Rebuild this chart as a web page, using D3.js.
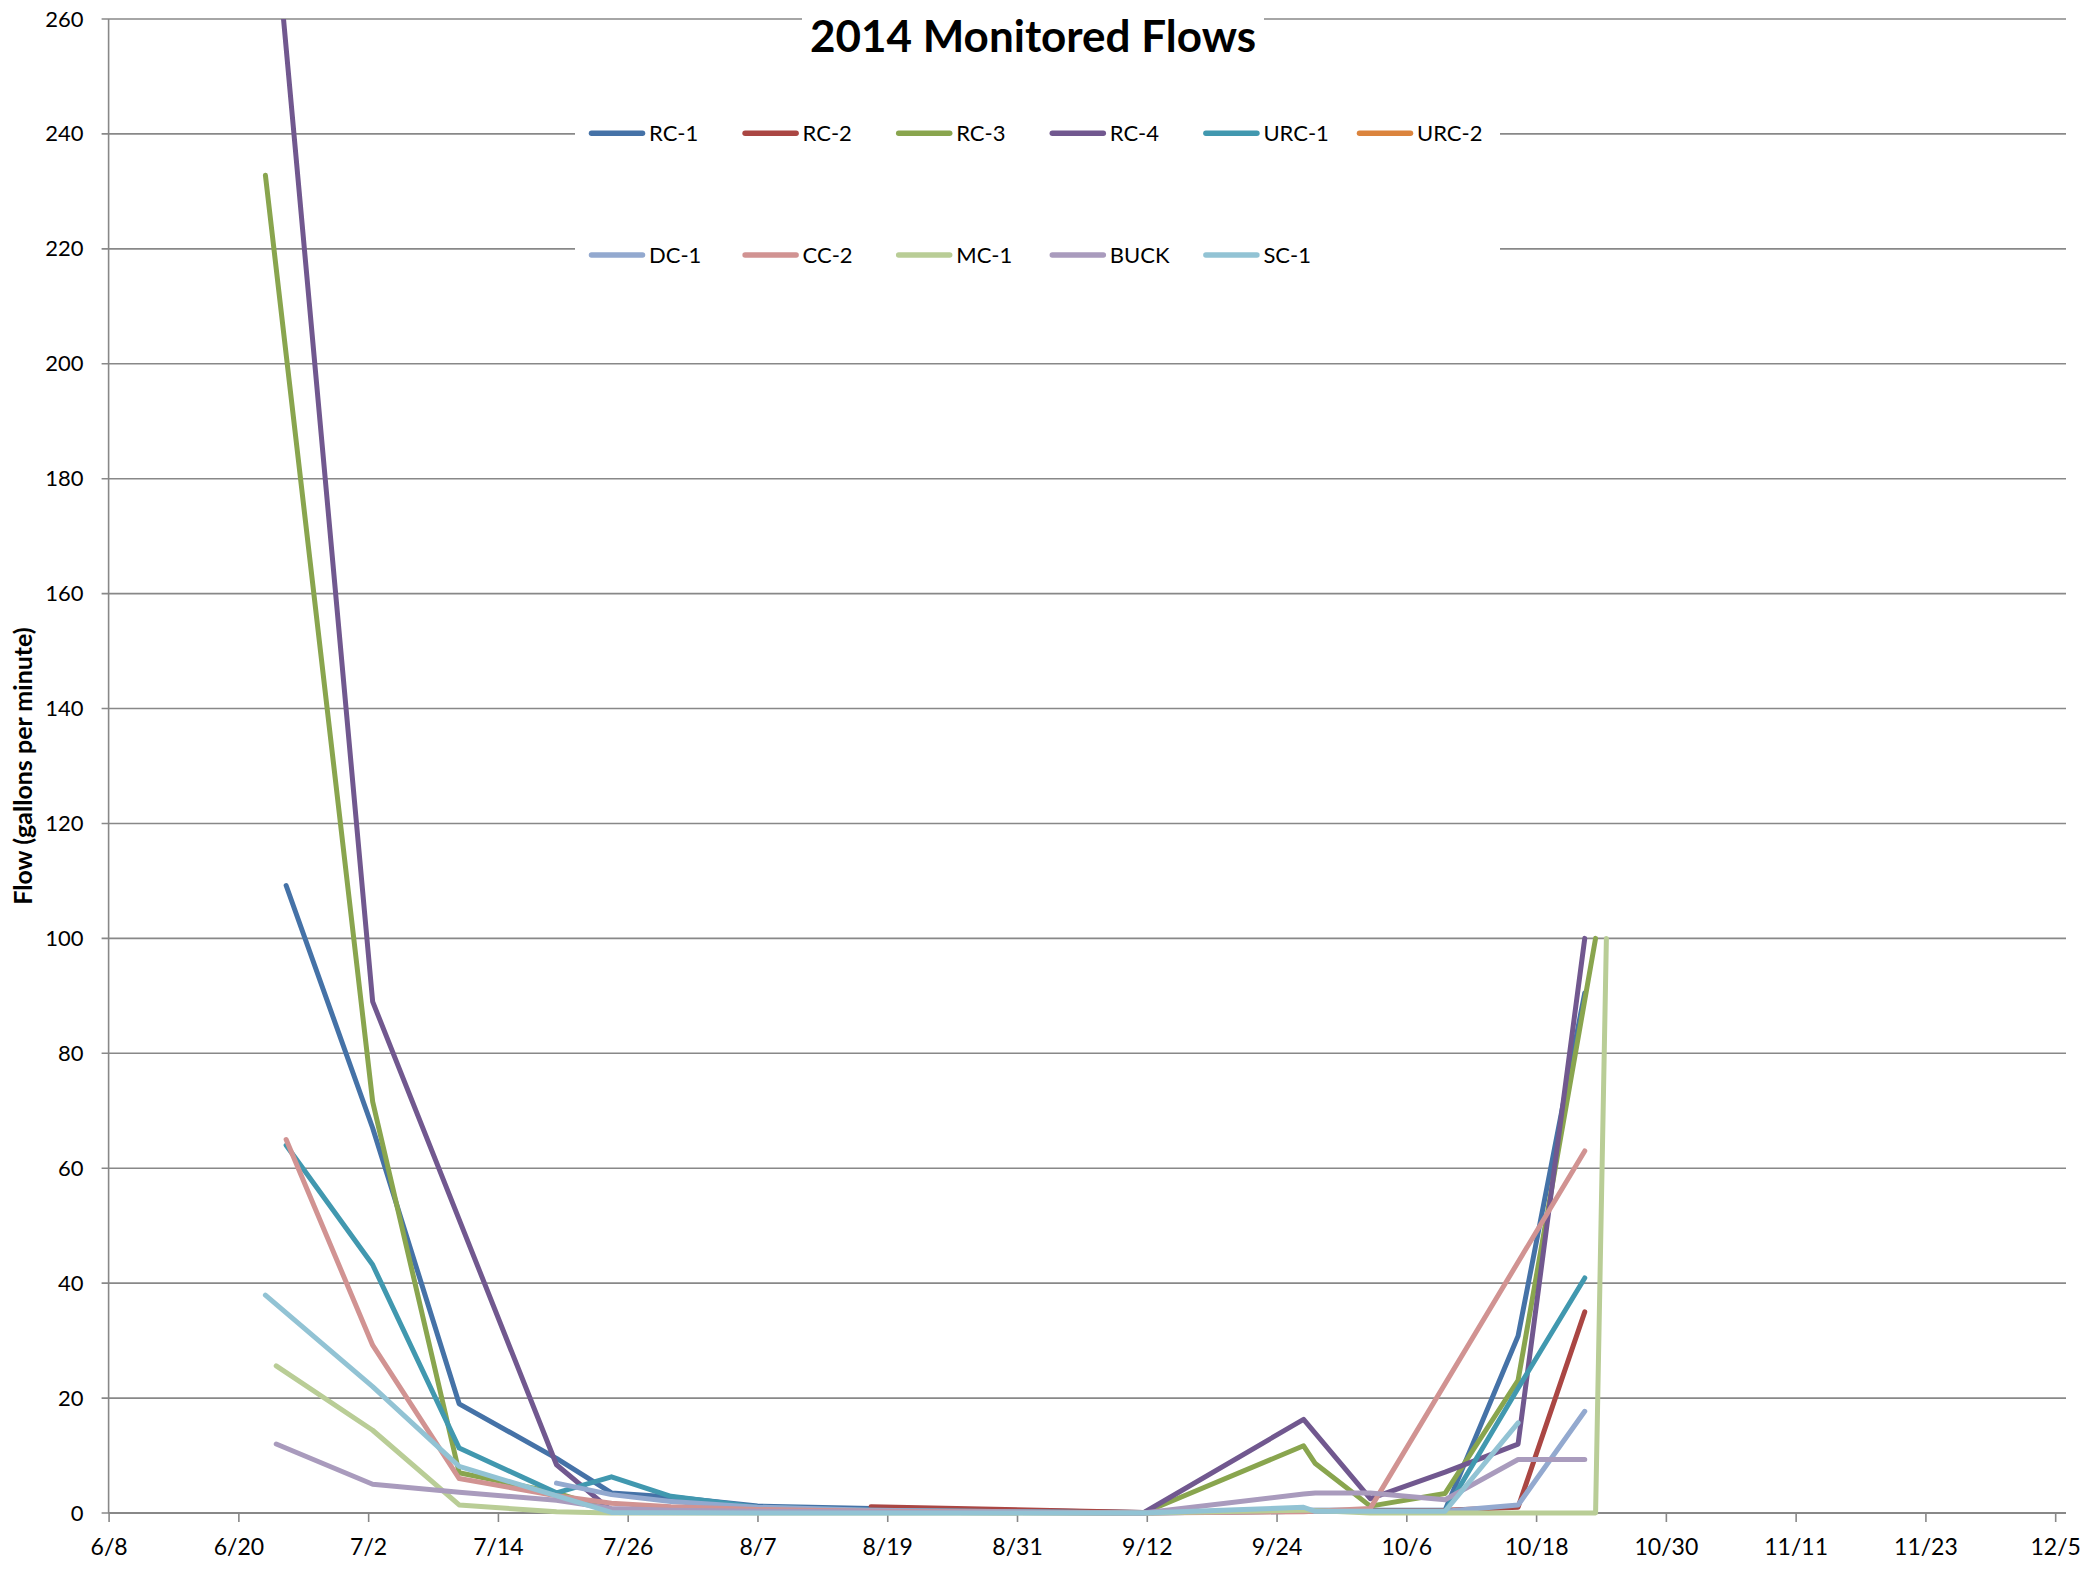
<!DOCTYPE html>
<html>
<head>
<meta charset="utf-8">
<script src="https://cdn.jsdelivr.net/npm/d3@7"></script>
<style>
  body { margin: 0; background: #fff; }
  text { font-family: Lato, "Open Sans", sans-serif; fill: #000; }
</style>
</head>
<body>
<div id="chartContainer"></div>
<script>
// site names, legend order = draw order
const sites = ['RC-1', 'RC-2', 'RC-3', 'RC-4', 'URC-1', 'URC-2', 'DC-1', 'CC-2', 'MC-1', 'BUCK', 'SC-1']
const siteColors = ['#4572A7', '#AA4643', '#89A54E', '#71588F', '#4198AF', '#DB843D',
                    '#93A9CF', '#D19392', '#B9CD96', '#A99BBD', '#92C3D4']

// flows in gallons per minute, [measured at, value]
const rc1 = [['2014-06-24 10:00', 109.2], ['2014-07-02 10:00', 67.0], ['2014-07-10 10:00', 19.0],
  ['2014-07-19 10:00', 9.5], ['2014-07-24 12:00', 3.5], ['2014-07-30 00:00', 2.8], ['2014-08-07 00:00', 1.2],
  ['2014-08-17 12:00', 0.8], ['2014-09-11 16:00', 0.1], ['2014-09-26 12:00', 0.5], ['2014-10-02 16:00', 0.5],
  ['2014-10-09 14:00', 0.5], ['2014-10-16 08:00', 30.8], ['2014-10-22 12:00', 90.5]]
const rc2 = [['2014-08-17 12:00', 1.1], ['2014-09-11 16:00', 0.1], ['2014-09-26 12:00', 0.3],
  ['2014-10-02 16:00', 0.4], ['2014-10-09 14:00', 0.5], ['2014-10-16 08:00', 1.0], ['2014-10-22 12:00', 35.0]]
const rc3 = [['2014-06-22 12:00', 232.8], ['2014-07-02 10:00', 71.6], ['2014-07-10 10:00', 7.0],
  ['2014-07-19 10:00', 3.5], ['2014-07-24 12:00', 0.5], ['2014-07-30 00:00', 0.3], ['2014-08-07 00:00', 0.2],
  ['2014-09-11 16:00', 0.0], ['2014-09-26 12:00', 11.7], ['2014-09-27 14:00', 8.6], ['2014-10-02 16:00', 1.2],
  ['2014-10-09 14:00', 3.4], ['2014-10-16 08:00', 23.1], ['2014-10-23 12:00', 100]]
const rc4 = [['2014-06-23 12:00', 274], ['2014-07-02 10:00', 89.0], ['2014-07-19 10:00', 8.4],
  ['2014-07-24 12:00', 0.4], ['2014-07-30 00:00', 0.3], ['2014-08-07 00:00', 0.2], ['2014-09-11 16:00', 0.0],
  ['2014-09-26 12:00', 16.3], ['2014-10-02 16:00', 2.5], ['2014-10-09 14:00', 7.1], ['2014-10-16 08:00', 12.0],
  ['2014-10-22 12:00', 100]]
const urc1 = [['2014-06-24 10:00', 64.0], ['2014-07-02 10:00', 43.2], ['2014-07-10 10:00', 11.3],
  ['2014-07-19 10:00', 3.5], ['2014-07-24 12:00', 6.3], ['2014-07-30 00:00', 2.9], ['2014-08-07 00:00', 1.0],
  ['2014-08-17 12:00', 0.5], ['2014-09-11 16:00', 0.0], ['2014-09-26 12:00', 0.3], ['2014-10-02 16:00', 0.3],
  ['2014-10-09 14:00', 0.3], ['2014-10-16 08:00', 21.7], ['2014-10-22 12:00', 40.9]]
const urc2 = []
const dc1 = [['2014-07-19 10:00', 5.2], ['2014-07-24 12:00', 3.2], ['2014-07-30 00:00', 2.0],
  ['2014-08-07 00:00', 1.0], ['2014-08-17 12:00', 0.5], ['2014-09-11 16:00', 0.0], ['2014-09-26 12:00', 0.3],
  ['2014-10-02 16:00', 0.3], ['2014-10-09 14:00', 0.3], ['2014-10-16 08:00', 1.4], ['2014-10-22 12:00', 17.7]]
const cc2 = [['2014-06-24 10:00', 65.0], ['2014-07-02 10:00', 29.2], ['2014-07-10 10:00', 6.0],
  ['2014-07-19 10:00', 3.0], ['2014-07-24 12:00', 1.7], ['2014-07-30 00:00', 1.1], ['2014-08-07 00:00', 0.6],
  ['2014-08-17 12:00', 0.3], ['2014-09-11 16:00', 0.0], ['2014-09-26 12:00', 0.2], ['2014-10-02 16:00', 0.8],
  ['2014-10-22 12:00', 63.0]]
const mc1 = [['2014-06-23 12:00', 25.6], ['2014-07-02 10:00', 14.4], ['2014-07-10 10:00', 1.4],
  ['2014-07-19 10:00', 0.2], ['2014-07-24 12:00', 0.0], ['2014-08-07 00:00', 0.0], ['2014-09-11 16:00', 0.0],
  ['2014-09-26 12:00', 0.5], ['2014-10-02 16:00', 0.0], ['2014-10-23 12:00', 0.0], ['2014-10-24 12:00', 100]]
const buck = [['2014-06-23 12:00', 12.0], ['2014-07-02 10:00', 5.0], ['2014-07-10 10:00', 3.6],
  ['2014-07-19 10:00', 2.2], ['2014-07-24 12:00', 0.8], ['2014-07-30 00:00', 0.5], ['2014-08-07 00:00', 0.3],
  ['2014-09-11 16:00', 0.0], ['2014-09-26 12:00', 3.3], ['2014-09-27 14:00', 3.5], ['2014-10-02 16:00', 3.5],
  ['2014-10-09 14:00', 2.3], ['2014-10-16 08:00', 9.3], ['2014-10-22 12:00', 9.3]]
const sc1 = [['2014-06-22 12:00', 37.9], ['2014-07-02 10:00', 22.0], ['2014-07-10 10:00', 8.1],
  ['2014-07-24 12:00', 0.1], ['2014-08-07 00:00', 0.0], ['2014-09-11 16:00', 0.0], ['2014-09-26 12:00', 1.0],
  ['2014-09-27 14:00', 0.3], ['2014-10-09 14:00', 0.3], ['2014-10-16 08:00', 15.7]]

const seriesData = [rc1, rc2, rc3, rc4, urc1, urc2, dc1, cc2, mc1, buck, sc1]

// axis settings
const xStart = '2014-06-08'
const xEnd = '2014-12-06'
const xStepDays = 12
const yTicks = d3.range(0, 261, 20)

const chartTitle = '2014 Monitored Flows'
const yTitle = 'Flow (gallons per minute)'

const width = 2082
const height = 1571
const plot = { left: 108.6, right: 2066, top: 19, bottom: 1513 }

const parseTime = d3.utcParse('%Y-%m-%d %H:%M')
const parseDay = d3.utcParse('%Y-%m-%d')

const svg = d3.select('#chartContainer').append('svg')
  .attr('width', width)
  .attr('height', height)
  .attr('xmlns', 'http://www.w3.org/2000/svg')

const x = d3.scaleUtc()
  .domain([parseDay(xStart), parseDay(xEnd)])
  .range([plot.left, plot.right])
const y = d3.scaleLinear()
  .domain([0, 260])
  .range([plot.bottom, plot.top])

const gridColor = '#888888'

// horizontal gridlines (with short outside tick)
svg.append('g').selectAll('line')
  .data(yTicks)
  .join('line')
  .attr('x1', plot.left - 7)
  .attr('x2', plot.right)
  .attr('y1', d => y(d))
  .attr('y2', d => y(d))
  .style('stroke', gridColor)
  .style('stroke-width', 1.6)

// title and legend sit on white boxes that hide the gridlines
svg.append('rect').attr('x', 802).attr('y', 0).attr('width', 462).attr('height', 66).style('fill', '#fff')
svg.append('rect').attr('x', 575).attr('y', 72).attr('width', 925).attr('height', 228).style('fill', '#fff')

// y axis labels
const yAxis = svg.append('g')
  .attr('transform', 'translate(' + plot.left + ',0)')
  .call(d3.axisLeft(y).tickValues(yTicks).tickSize(0).tickPadding(25))
yAxis.select('.domain').remove()
yAxis.selectAll('text').style('font-size', '22px').style('font-family', 'Lato')

svg.append('line')
  .attr('x1', plot.left).attr('x2', plot.left)
  .attr('y1', plot.top).attr('y2', plot.bottom)
  .style('stroke', gridColor)
  .style('stroke-width', 1.6)

// x axis
const xTicks = d3.utcDay.range(parseDay(xStart), d3.utcDay.offset(parseDay(xEnd), 1), xStepDays)
const xAxis = svg.append('g')
  .attr('transform', 'translate(0,' + plot.bottom + ')')
  .call(d3.axisBottom(x).tickValues(xTicks).tickSize(9).tickPadding(17).tickFormat(d3.utcFormat('%-m/%-d')))
xAxis.select('.domain')
  .attr('d', 'M' + plot.left + ',0H' + plot.right)
  .style('stroke', gridColor)
  .style('stroke-width', 2.2)
xAxis.selectAll('.tick line').style('stroke', gridColor).style('stroke-width', 1.6)
xAxis.selectAll('text').style('font-size', '23px').style('font-family', 'Lato')

// clip lines to the plot area
svg.append('clipPath').attr('id', 'plotClip')
  .append('rect')
  .attr('x', plot.left - 4)
  .attr('y', plot.top)
  .attr('width', plot.right - plot.left + 8)
  .attr('height', plot.bottom - plot.top + 8)

const line = d3.line()
  .x(d => x(parseTime(d[0])))
  .y(d => y(d[1]))

svg.append('g')
  .attr('clip-path', 'url(#plotClip)')
  .selectAll('path')
  .data(seriesData)
  .join('path')
  .attr('d', d => d.length ? line(d) : null)
  .style('fill', 'none')
  .style('stroke', (d, i) => siteColors[i])
  .style('stroke-width', 5)
  .style('stroke-linecap', 'round')
  .style('stroke-linejoin', 'round')

// title
svg.append('text')
  .attr('x', 1033)
  .attr('y', 52)
  .attr('text-anchor', 'middle')
  .style('font-size', '44px')
  .style('font-weight', 'bold')
  .text(chartTitle)

// y axis title
svg.append('text')
  .attr('transform', 'translate(22,766) rotate(-90)')
  .attr('text-anchor', 'middle')
  .attr('dominant-baseline', 'central')
  .style('font-size', '25px')
  .style('font-weight', 'bold')
  .text(yTitle)

// legend: 6 per row
const legend = svg.append('g').selectAll('g')
  .data(sites)
  .join('g')
  .attr('transform', (d, i) => 'translate(' + (589.5 + (i % 6) * 153.6) + ',' + (i < 6 ? 133.3 : 255) + ')')
legend.append('line')
  .attr('x1', 2).attr('x2', 53)
  .style('stroke', (d, i) => siteColors[i])
  .style('stroke-width', 5.5)
  .style('stroke-linecap', 'round')
legend.append('text')
  .attr('x', 59.5)
  .attr('y', 8)
  .style('font-size', '22px')
  .text(d => d)
</script>
</body>
</html>
